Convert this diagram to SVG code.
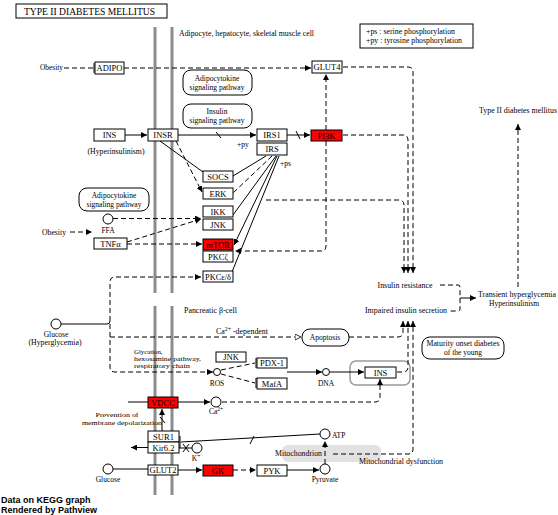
<svg xmlns="http://www.w3.org/2000/svg" width="558" height="515" viewBox="0 0 558 515">
<style>
.box{fill:#fff;stroke:#000;stroke-width:1}
.red{fill:#f00}
.rb{fill:#fff;stroke:#000;stroke-width:1}
.t{font-family:"Liberation Serif",serif;font-size:8.5px;text-anchor:middle;fill:#000}
.l{font-family:"Liberation Serif",serif;font-size:7.5px;fill:#000}
.m{font-family:"Liberation Serif",serif;font-size:6.8px;fill:#000}
.c{text-anchor:middle}
.s{stroke:#000;fill:none;stroke-width:1}
.d{stroke-dasharray:5,3}
.mem{stroke:#8c8c8c;stroke-width:3;fill:none}
.cir{fill:#fff;stroke:#000;stroke-width:1}
.pv{font-family:"Liberation Sans",Arial,sans-serif;font-size:9px;font-weight:bold;fill:#000}
</style>
<defs>
<marker id="a" viewBox="0 0 6 6" refX="6" refY="3" markerWidth="6" markerHeight="6" markerUnits="userSpaceOnUse" orient="auto"><path d="M0,0L6,3L0,6z" fill="#000"/></marker>
<marker id="o" viewBox="0 0 7 7" refX="6.5" refY="3.5" markerWidth="7" markerHeight="7" markerUnits="userSpaceOnUse" orient="auto"><path d="M0.5,0.5L6.5,3.5L0.5,6.5z" fill="#fff" stroke="#000" stroke-width="0.8"/></marker>
</defs>
<rect width="558" height="515" fill="#fff"/>

<g id="title"><rect x="16" y="4" width="151" height="14" class="box"/><text x="24" y="15" font-family="Liberation Serif,serif" font-size="10" textLength="131" lengthAdjust="spacingAndGlyphs">TYPE II DIABETES MELLITUS</text></g>

<g id="membranes">
<line x1="155" y1="27" x2="155" y2="293" class="mem"/><line x1="172" y1="27" x2="172" y2="293" class="mem"/>
<line x1="155" y1="306" x2="155" y2="495" class="mem"/><line x1="172" y1="306" x2="172" y2="495" class="mem"/>
</g>

<g id="mitochondrion"><rect x="282" y="445" width="99" height="17" rx="6" fill="#e2e2e2"/><text x="275" y="456" class="l" textLength="47" lengthAdjust="spacingAndGlyphs">Mitochondrion</text></g>
<g id="ins-group"><rect x="350" y="361" width="60" height="24" rx="6" fill="none" stroke="#9a9a9a" stroke-width="1.5"/></g>

<g id="labels">
<text x="179" y="36" class="l" textLength="135" lengthAdjust="spacingAndGlyphs">Adipocyte, hepatocyte, skeletal muscle cell</text>
<text x="184" y="313" class="l" textLength="53" lengthAdjust="spacingAndGlyphs">Pancreatic β-cell</text>
<text x="40" y="70" class="l" textLength="23" lengthAdjust="spacingAndGlyphs">Obesity</text>
<text x="42" y="235" class="l" textLength="24" lengthAdjust="spacingAndGlyphs">Obesity</text>
<text x="116" y="154" class="l c" textLength="57" lengthAdjust="spacingAndGlyphs">(Hyperinsulinism)</text>
<text x="237" y="147" class="l">+py</text>
<text x="280" y="166" class="l">+ps</text>
<text x="108" y="233" class="l c">FFA</text>
<text x="56" y="337" class="l c">Glucose</text>
<text x="55" y="345" class="l c" textLength="53" lengthAdjust="spacingAndGlyphs">(Hyperglycemia)</text>
<text x="216" y="334" class="l" textLength="52" lengthAdjust="spacingAndGlyphs">Ca<tspan dy="-3" font-size="5.5">2+</tspan><tspan dy="3"> -dependent</tspan></text>
<text x="134" y="354" class="m">Glycation,</text>
<text x="134" y="361" class="m" textLength="67" lengthAdjust="spacingAndGlyphs">hexosamine pathway,</text>
<text x="134" y="368" class="m" textLength="56" lengthAdjust="spacingAndGlyphs">respiratory chain</text>
<text x="217" y="386" class="l c">ROS</text>
<text x="326" y="386" class="l c">DNA</text>
<text x="216" y="414" class="l c">Ca<tspan dy="-3" font-size="5.5">2+</tspan></text>
<text x="117" y="417" class="m c" textLength="43" lengthAdjust="spacingAndGlyphs">Prevention of</text>
<text x="122" y="424.5" class="m c" textLength="80" lengthAdjust="spacingAndGlyphs">membrane depolarization</text>
<text x="196" y="461" class="l c">K<tspan dy="-3" font-size="5.5">+</tspan></text>
<text x="108" y="482" class="l c">Glucose</text>
<text x="325" y="482" class="l c">Pyruvate</text>
<text x="332" y="438" class="l">ATP</text>
<text x="359" y="464" class="l" textLength="84" lengthAdjust="spacingAndGlyphs">Mitochondrial dysfunction</text>
<text x="405" y="288" class="l c" textLength="55" lengthAdjust="spacingAndGlyphs">Insulin resistance</text>
<text x="406" y="313" class="l c" textLength="82" lengthAdjust="spacingAndGlyphs">Impaired insulin secretion</text>
<text x="517" y="297" class="l c" textLength="78" lengthAdjust="spacingAndGlyphs">Transient hyperglycemia</text>
<text x="514" y="306" class="l c" textLength="50" lengthAdjust="spacingAndGlyphs">Hyperinsulinism</text>
<text x="518" y="113" class="l c" textLength="78" lengthAdjust="spacingAndGlyphs">Type II diabetes mellitus</text>
</g>

<g id="legend"><rect x="360" y="24" width="113" height="24" class="box"/>
<text x="366" y="34" class="l" textLength="89" lengthAdjust="spacingAndGlyphs">+ps : serine phosphorylation</text>
<text x="366" y="43" class="l" textLength="96" lengthAdjust="spacingAndGlyphs">+py : tyrosine phosphorylation</text></g>

<g id="connectors">
<path d="M64,68H94" class="s d"/><path d="M94,63V73" class="s"/>
<path d="M124,68H311" class="s d" marker-end="url(#a)"/>
<path d="M343,67H408Q413,67 413,72V273" class="s d" marker-end="url(#a)"/>
<path d="M326,130V74" class="s d" marker-end="url(#a)"/>
<path d="M326,141V246Q326,251 321,251H235" class="s d" marker-end="url(#a)"/>
<path d="M343,135H403Q408,135 408,140V273" class="s d" marker-end="url(#a)"/>
<path d="M266,200H399Q404,200 404,205V273" class="s d" marker-end="url(#a)"/>
<path d="M125,135H147" class="s" marker-end="url(#a)"/>
<path d="M178,135H256" class="s" marker-end="url(#a)"/><path d="M216,132L221,138" class="s"/>
<path d="M287,135H310" class="s" marker-end="url(#a)"/><path d="M296,131L300,139" class="s"/>
<path d="M160,141L203,172" class="s"/>
<path d="M176,141L202,192" class="s d" marker-end="url(#a)"/>
<path d="M266,156L233,176" class="s"/>
<path d="M272,156L233,193" class="s d"/>
<path d="M276,156L233,215" class="s"/>
<path d="M277,156L234,245" class="s" marker-end="url(#a)"/>
<path d="M279,156L232,272" class="s"/>
<path d="M113,218.5H201" class="s d" marker-end="url(#a)"/>
<path d="M127,242L201,219" class="s d" marker-end="url(#a)"/>
<path d="M127,244H202" class="s d" marker-end="url(#a)"/>
<path d="M70,232H92" class="s d" marker-end="url(#a)"/>
<path d="M61,324H107Q110,324 110,321" class="s"/>
<path d="M110,321V282Q110,277 115,277H201" class="s d" marker-end="url(#a)"/>
<path d="M110,324V367Q110,372 115,372H213" class="s d" marker-end="url(#a)"/>
<path d="M110,337H301" class="s d" marker-end="url(#o)"/>
<path d="M349,337H398Q403,337 403,332V321" class="s d" marker-end="url(#a)"/>
<path d="M221,370L255,363" class="s d"/><path d="M256,358V368" class="s"/>
<path d="M221,374L255,383" class="s d"/><path d="M256,378V388" class="s"/>
<path d="M287,372H322" class="s" marker-end="url(#a)"/>
<path d="M330,372H364" class="s" marker-end="url(#a)"/>
<path d="M397,372H403Q408,372 408,367V321" class="s d" marker-end="url(#a)"/>
<path d="M333,454H408Q413,454 413,449V321" class="s d" marker-end="url(#a)"/>
<path d="M222,402H375Q380,402 380,397V379" class="s d" marker-end="url(#a)"/>
<path d="M128,402H148" class="s"/>
<path d="M178,402H210" class="s" marker-end="url(#a)"/>
<path d="M162,431V409" class="s" marker-end="url(#a)"/><path d="M160,417L165,423" class="s"/>
<path d="M148,447.5H131" class="s" marker-end="url(#a)"/>
<path d="M179,448H192" class="s"/><path d="M183,444L189,452M183,452L189,444" class="s"/>
<path d="M320,434L181,442" class="s"/><path d="M180,436V448" class="s"/><path d="M250,444L254,436" class="s"/>
<path d="M113,469H148" class="s"/>
<path d="M178,470H202" class="s" marker-end="url(#a)"/>
<path d="M233,470H256" class="s d" marker-end="url(#a)"/>
<path d="M287,470H319" class="s" marker-end="url(#a)"/>
<path d="M325,464V441" class="s d" marker-end="url(#a)"/>
<path d="M440,285H458Q460,285 460,287V309Q460,311 458,311H450" class="s d"/>
<path d="M460,298H476" class="s" marker-end="url(#a)"/>
<path d="M518,287V124" class="s d" marker-end="url(#a)"/>
</g>

<g id="pathway-adipo1"><rect x="183" y="70" width="69" height="25" rx="8" class="rb"/><text x="217" y="81" class="l c">Adipocytokine</text><text x="217" y="90" class="l c">signaling pathway</text></g>
<g id="pathway-insulin"><rect x="183" y="104" width="69" height="24" rx="8" class="rb"/><text x="217" y="114" class="l c">Insulin</text><text x="217" y="123" class="l c">signaling pathway</text></g>
<g id="pathway-adipo2"><rect x="79" y="188" width="70" height="23" rx="8" class="rb"/><text x="114" y="198" class="l c">Adipocytokine</text><text x="114" y="207" class="l c">signaling pathway</text></g>
<g id="apoptosis"><rect x="302" y="329" width="47" height="17" rx="8" class="rb"/><text x="325" y="340" class="l c">Apoptosis</text></g>
<g id="mody"><rect x="422" y="337" width="82" height="22" rx="8" class="rb"/><text x="463" y="346" class="l c" textLength="73" lengthAdjust="spacingAndGlyphs">Maturity onset diabetes</text><text x="463" y="355" class="l c">of the young</text></g>

<g id="ADIPO"><rect x="95" y="62" width="29" height="12" class="box"/><text x="109.5" y="71" class="t">ADIPO</text></g>
<g id="GLUT4"><rect x="312" y="61" width="30" height="12" class="box"/><text x="327" y="70" class="t">GLUT4</text></g>
<g id="INS"><rect x="94" y="129" width="31" height="12" class="box"/><text x="109.5" y="138" class="t">INS</text></g>
<g id="INSR"><rect x="148" y="129" width="30" height="12" class="box"/><text x="163" y="138" class="t">INSR</text></g>
<g id="IRS1"><rect x="257" y="129" width="30" height="12" class="box"/><text x="272" y="138" class="t">IRS1</text></g>
<g id="IRS"><rect x="257" y="143" width="30" height="12" class="box"/><text x="272" y="152" class="t">IRS</text></g>
<g id="PI3K"><rect x="311" y="130" width="31" height="11" class="box red"/><text x="326.5" y="138.5" class="t">PI3K</text></g>
<g id="SOCS"><rect x="203" y="171" width="30" height="11" class="box"/><text x="218" y="179.5" class="t">SOCS</text></g>
<g id="ERK"><rect x="203" y="188" width="30" height="11" class="box"/><text x="218" y="196.5" class="t">ERK</text></g>
<g id="IKK"><rect x="203" y="206" width="30" height="11" class="box"/><text x="218" y="214.5" class="t">IKK</text></g>
<g id="JNK"><rect x="203" y="219" width="30" height="11" class="box"/><text x="218" y="227.5" class="t">JNK</text></g>
<g id="TNFa"><rect x="94" y="238" width="33" height="11" class="box"/><text x="110.5" y="246.5" class="t">TNFα</text></g>
<g id="FFA"><circle cx="108" cy="219" r="5" class="cir"/></g>
<g id="mTOR"><rect x="203" y="239" width="30" height="11" class="box red"/><text x="218" y="247.5" class="t">mTOR</text></g>
<g id="PKCz"><rect x="203" y="251" width="30" height="11" class="box"/><text x="218" y="259.5" class="t">PKCζ</text></g>
<g id="PKCed"><rect x="203" y="271" width="30" height="11" class="box"/><text x="218" y="279.5" class="t" textLength="26" lengthAdjust="spacingAndGlyphs">PKCε/δ</text></g>
<g id="Glucose-hyper"><circle cx="56" cy="324" r="5" class="cir"/></g>
<g id="JNK2"><rect x="216" y="352" width="30" height="10" class="box"/><text x="231" y="360" class="t">JNK</text></g>
<g id="ROS"><circle cx="217" cy="372" r="3.5" class="cir"/></g>
<g id="PDX1"><rect x="257" y="358" width="30" height="10" class="box"/><text x="272" y="366" class="t">PDX-1</text></g>
<g id="MafA"><rect x="257" y="378" width="30" height="11" class="box"/><text x="272" y="386.5" class="t">MafA</text></g>
<g id="DNA"><circle cx="326" cy="372" r="3.5" class="cir"/></g>
<g id="INS2"><rect x="365" y="367" width="31" height="11" class="box"/><text x="380.5" y="375.5" class="t">INS</text></g>
<g id="VDCC"><rect x="148" y="397" width="30" height="11" class="box red"/><text x="163" y="405.5" class="t">VDCC</text></g>
<g id="Ca"><circle cx="216" cy="402" r="5" class="cir"/></g>
<g id="SUR1"><rect x="148" y="431" width="31" height="11" class="box"/><text x="163.5" y="439.5" class="t">SUR1</text></g>
<g id="Kir62"><rect x="148" y="442" width="31" height="11" class="box"/><text x="163.5" y="450.5" class="t">Kir6.2</text></g>
<g id="K"><circle cx="197" cy="448" r="5" class="cir"/></g>
<g id="ATP"><circle cx="325" cy="434" r="5" class="cir"/></g>
<g id="Glucose"><circle cx="108" cy="469" r="5" class="cir"/></g>
<g id="GLUT2"><rect x="148" y="465" width="30" height="10" class="box"/><text x="163" y="473" class="t">GLUT2</text></g>
<g id="GK"><rect x="203" y="465" width="30" height="11" class="box red"/><text x="218" y="473.5" class="t">GK</text></g>
<g id="PYK"><rect x="257" y="465" width="30" height="11" class="box"/><text x="272" y="473.5" class="t">PYK</text></g>
<g id="Pyruvate"><circle cx="325" cy="469" r="5" class="cir"/></g>

<g id="footer"><text x="1" y="503" class="pv">Data on KEGG graph</text><text x="1" y="513" class="pv">Rendered by Pathview</text></g>
</svg>
